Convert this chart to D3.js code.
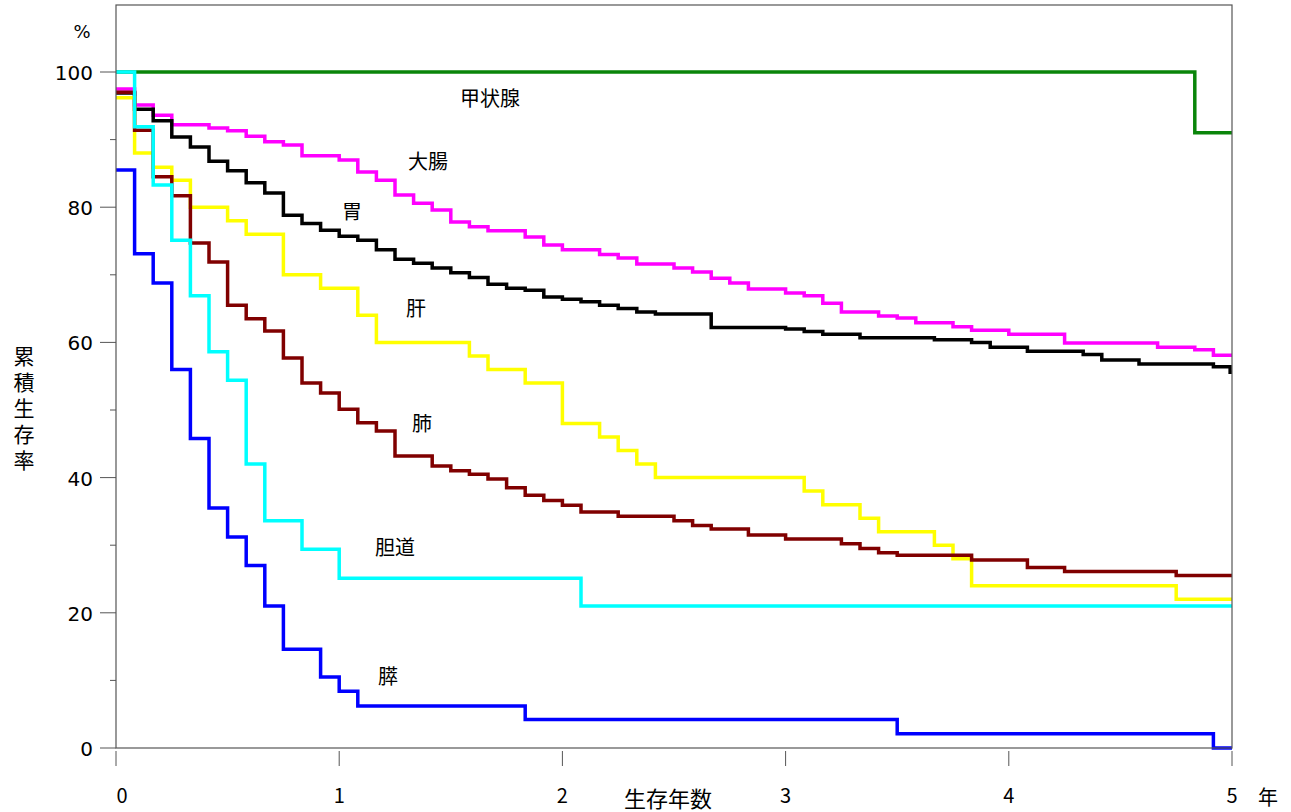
<!DOCTYPE html>
<html>
<head>
<meta charset="utf-8">
<script src="https://cdn.jsdelivr.net/npm/d3@7"></script>
<style>
body { margin: 0; background: #fff; }
text { font-family: "Noto Sans CJK JP", sans-serif; }
</style>
</head>
<body>
<svg width="1291" height="812"></svg>
<script>
// [month, survival %] — value holds from that month on
var thyroid = [[0,100],[58,91]];
var colon = [[0,97.5],[1,95.1],[2,93.6],[3,92.2],[5,91.7],[6,91.3],[7,90.5],[8,89.7],[9,89.2],[10,87.6],[12,87.0],[13,85.2],[14,84.0],[15,81.8],[16,80.6],[17,79.6],[18,77.8],[19,77.1],[20,76.5],[22,75.6],[23,74.4],[24,73.7],[26,73.0],[27,72.5],[28,71.6],[30,71.0],[31,70.4],[32,69.5],[33,68.8],[34,67.9],[36,67.3],[37,66.9],[38,65.8],[39,64.5],[41,63.9],[42,63.6],[43,62.9],[45,62.3],[46,61.8],[48,61.2],[51,59.9],[56,59.3],[58,58.9],[59,58.1]];
var stomach = [[0,96.9],[1,94.5],[2,92.8],[3,90.4],[4,88.9],[5,86.8],[6,85.4],[7,83.6],[8,82.1],[9,78.8],[10,77.6],[11,76.6],[12,75.7],[13,75.1],[14,73.7],[15,72.3],[16,71.7],[17,71.0],[18,70.3],[19,69.6],[20,68.6],[21,68.0],[22,67.7],[23,66.7],[24,66.4],[25,66.0],[26,65.5],[27,65.0],[28,64.5],[29,64.2],[32,62.2],[36,62.0],[37,61.6],[38,61.2],[40,60.7],[44,60.4],[46,60.0],[47,59.3],[49,58.7],[52,58.2],[53,57.4],[55,56.8],[59,56.4],[59.9,55.6]];
var liver = [[0,96.2],[1,88.0],[2,85.9],[3,84.0],[4,80.0],[6,78.0],[7,76.0],[9,70.0],[11,68.0],[13,64.0],[14,60.0],[19,58.0],[20,56.0],[22,54.0],[24,48.0],[26,46.0],[27,44.0],[28,42.0],[29,40.0],[37,38.0],[38,36.0],[40,34.0],[41,32.0],[44,30.0],[45,28.0],[46,24.0],[57,22.0]];
var lung = [[0,97.0],[1,91.4],[2,84.5],[3,81.7],[4,74.7],[5,71.9],[6,65.5],[7,63.5],[8,61.7],[9,57.7],[10,54.0],[11,52.5],[12,50.1],[13,48.1],[14,46.9],[15,43.2],[17,41.7],[18,41.0],[19,40.5],[20,39.8],[21,38.5],[22,37.4],[23,36.6],[24,35.9],[25,34.9],[27,34.3],[30,33.6],[31,32.9],[32,32.4],[34,31.5],[36,30.9],[39,30.2],[40,29.5],[41,28.9],[42,28.5],[46,27.8],[49,26.7],[51,26.1],[57,25.5]];
var biliary = [[0,100],[1,91.9],[2,83.3],[3,75.1],[4,66.9],[5,58.6],[6,54.4],[7,42.0],[8,33.6],[10,29.4],[12,25.1],[25,21.0]];
var pancreas = [[0,85.5],[1,73.1],[2,68.8],[3,56.0],[4,45.8],[5,35.5],[6,31.2],[7,27.0],[8,21.0],[9,14.6],[11,10.5],[12,8.4],[13,6.2],[22,4.2],[42,2.1],[59,0]];

var series = [
  {name: "甲状腺", color: "#0a850a", data: thyroid, lx: 490, ly: 101},
  {name: "大腸", color: "#ff00ff", data: colon, lx: 428, ly: 164},
  {name: "胃", color: "#000000", data: stomach, lx: 352, ly: 214},
  {name: "肝", color: "#ffff00", data: liver, lx: 416, ly: 311},
  {name: "肺", color: "#800000", data: lung, lx: 422, ly: 426},
  {name: "胆道", color: "#00ffff", data: biliary, lx: 395, ly: 550},
  {name: "膵", color: "#0000ff", data: pancreas, lx: 388, ly: 679}
];
var xTicks = [0, 1, 2, 3, 4, 5];
var yMajor = [0, 20, 40, 60, 80, 100];
var yMinor = [10, 30, 50, 70, 90];

var svg = d3.select("svg");
var x = d3.scaleLinear().domain([0, 5]).range([116, 1232]);
var y = d3.scaleLinear().domain([0, 100]).range([748, 72]);

// draw curves first, frame on top
var line = d3.line()
  .x(function(d) { return x(d[0] / 12); })
  .y(function(d) { return y(d[1]); })
  .curve(d3.curveStepAfter);

series.forEach(function(s) {
  var pts = s.data.slice();
  pts.push([60, pts[pts.length - 1][1]]);
  svg.append("path")
    .attr("d", line(pts))
    .attr("fill", "none")
    .attr("stroke", s.color)
    .attr("stroke-width", 3.5);
  svg.append("text")
    .attr("x", s.lx).attr("y", s.ly)
    .attr("text-anchor", "middle")
    .attr("dominant-baseline", "middle")
    .style("font-size", "20px")
    .text(s.name);
});

svg.append("rect")
  .attr("x", 116).attr("y", 5)
  .attr("width", 1116).attr("height", 743)
  .attr("fill", "none")
  .attr("stroke", "#555").attr("stroke-width", 1.2);

// y axis
yMajor.forEach(function(v) {
  svg.append("line").attr("x1", 100).attr("x2", 116)
    .attr("y1", y(v)).attr("y2", y(v)).attr("stroke", "#555");
  svg.append("text")
    .attr("x", 93).attr("y", y(v) + 8)
    .attr("text-anchor", "end")
    .style("font-family", "DejaVu Sans")
    .style("font-size", "20px")
    .text(v);
});
yMinor.forEach(function(v) {
  svg.append("line").attr("x1", 110).attr("x2", 116)
    .attr("y1", y(v)).attr("y2", y(v)).attr("stroke", "#555");
});
svg.append("text").attr("x", 82).attr("y", 38)
  .attr("text-anchor", "middle")
  .style("font-family", "DejaVu Sans").style("font-size", "18px")
  .text("%");

var ylab = "累積生存率".split("");
ylab.forEach(function(c, i) {
  svg.append("text")
    .attr("x", 24).attr("y", 364 + i * 26)
    .attr("text-anchor", "middle")
    .style("font-size", "21px")
    .text(c);
});

// x axis
xTicks.forEach(function(v) {
  svg.append("line").attr("x1", x(v)).attr("x2", x(v))
    .attr("y1", 751).attr("y2", 766).attr("stroke", "#555");
  svg.append("text")
    .attr("x", v === 0 ? x(v) + 6 : x(v)).attr("y", 803)
    .attr("text-anchor", "middle")
    .style("font-size", "20px")
    .text(v);
});
svg.append("text").attr("x", 668).attr("y", 807)
  .attr("text-anchor", "middle").style("font-size", "22px")
  .text("生存年数");
svg.append("text").attr("x", 1268).attr("y", 805)
  .attr("text-anchor", "middle").style("font-size", "20px")
  .text("年");
</script>
</body>
</html>
